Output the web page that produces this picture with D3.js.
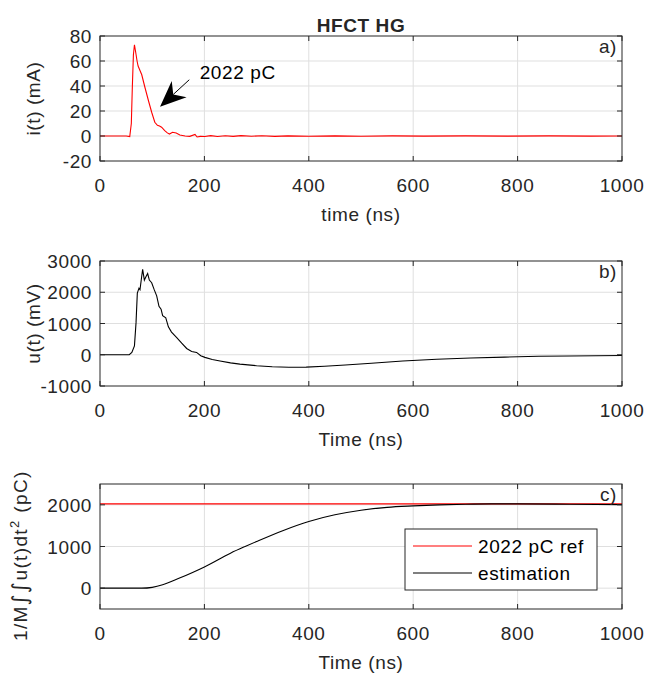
<!DOCTYPE html>
<html>
<head>
<meta charset="utf-8">
<script src="https://cdn.jsdelivr.net/npm/d3@7"></script>
<style>
  html, body { margin: 0; padding: 0; background: #fff; }
  svg { display: block; }
  text { font-family: "Liberation Sans", Arial, Helvetica, sans-serif; fill: #262626; letter-spacing: 0.6px; }
</style>
</head>
<body>
<svg id="chart" width="646" height="675"></svg>
<script>
// ---------- data ----------
const chartTitle = "HFCT HG";
const xTicks = [0, 200, 400, 600, 800, 1000];

// panel a: current i(t) in mA
const timeA = [0, 50, 57, 60, 62, 64, 66, 68, 71, 73, 77, 80, 86, 93, 99, 105, 110, 114, 118, 124, 129, 133, 139, 146, 153, 163, 172, 182, 186, 192, 201, 212, 225, 240, 255, 270, 290, 310, 335, 360, 400, 450, 500, 560, 620, 700, 780, 860, 940, 1000];
const currentA = [0, 0, -0.5, 10, 40, 65, 73, 68, 60, 56, 52, 49, 39, 28, 19, 11, 8.5, 8, 7, 4.3, 2.5, 1.6, 3, 2.4, 0.8, 0, -0.3, 1.3, -0.8, -0.3, -0.4, 0.3, -0.4, 0.2, -0.3, 0.3, -0.2, 0.2, -0.3, 0.1, -0.2, 0.1, -0.2, 0.1, -0.1, 0.1, -0.1, 0.1, -0.1, 0];
const yTicksA = [-20, 0, 20, 40, 60, 80];
const annotationText = "2022 pC";

// panel b: voltage u(t) in mV
const timeB = [0, 56, 61, 66, 69, 71.5, 74.7, 76.6, 79.8, 81.7, 85, 88, 91.3, 94.5, 99, 104, 108.6, 113, 117, 120, 126, 131, 137, 147, 156.5, 166, 175.6, 185, 193, 201, 215, 230, 250, 268, 300, 330, 362, 395, 430, 470, 520, 580, 645, 710, 775, 840, 900, 950, 1000];
const voltageB = [0, 0, 74, 285, 1020, 1970, 2130, 2080, 2495, 2730, 2390, 2495, 2600, 2390, 2305, 2075, 1885, 1550, 1460, 1250, 1180, 895, 725, 550, 370, 200, 105, 74, -32, -84, -150, -200, -260, -300, -350, -383, -398, -395, -370, -330, -270, -200, -145, -105, -75, -50, -38, -30, -25];
const yTicksB = [-1000, 0, 1000, 2000, 3000];

// panel c: charge estimation in pC
const timeC = [0, 80, 100, 120, 150, 200, 250, 278, 300, 350, 400, 450, 500, 550, 600, 650, 700, 750, 800, 900, 1000];
const estimationC = [0, 0, 20, 80, 230, 510, 840, 1000, 1120, 1380, 1600, 1760, 1870, 1940, 1975, 2000, 2015, 2022, 2022, 2015, 2005];
const refCharge = 2022;
const yTicksC = [0, 1000, 2000];
const legendLabels = ["2022 pC ref", "estimation"];

// ---------- layout ----------
const svg = d3.select("#chart");
const left = 100, right = 622;
const x = d3.scaleLinear().domain([0, 1000]).range([left, right]);
const fs = 19;
const axisColor = "#262626";
const gridColor = "#dfdfdf";

const panels = [
  { top: 36,  bottom: 161, domain: [-20, 80],     ticks: yTicksA, ylabel: "i(t) (mA)",  xlabel: "time (ns)", tag: "a)" },
  { top: 261, bottom: 386, domain: [-1000, 3000], ticks: yTicksB, ylabel: "u(t) (mV)",  xlabel: "Time (ns)", tag: "b)" },
  { top: 484, bottom: 609, domain: [-500, 2500],  ticks: yTicksC, ylabel: null,         xlabel: "Time (ns)", tag: "c)" }
];

panels.forEach((p, i) => {
  p.y = d3.scaleLinear().domain(p.domain).range([p.bottom, p.top]);
  const g = svg.append("g");
  p.g = g;
  const clipId = "clip" + i;
  svg.append("clipPath").attr("id", clipId).append("rect")
    .attr("x", left).attr("y", p.top).attr("width", right - left).attr("height", p.bottom - p.top);
  g.append("g").selectAll("line").data(xTicks.slice(1, -1)).join("line")
    .attr("x1", d => x(d)).attr("x2", d => x(d)).attr("y1", p.top).attr("y2", p.bottom)
    .attr("stroke", gridColor).attr("stroke-width", 1);
  g.append("g").selectAll("line").data(p.ticks.filter(t => t > p.domain[0] && t < p.domain[1])).join("line")
    .attr("x1", left).attr("x2", right).attr("y1", d => p.y(d)).attr("y2", d => p.y(d))
    .attr("stroke", gridColor).attr("stroke-width", 1);
});

// data lines
const lineA = d3.line().x((d, i) => x(timeA[i])).y(d => panels[0].y(d));
panels[0].g.append("path").datum(currentA).attr("d", lineA)
  .attr("fill", "none").attr("stroke", "#ff0000").attr("stroke-width", 1.1)
  .attr("clip-path", "url(#clip0)");

const lineB = d3.line().x((d, i) => x(timeB[i])).y(d => panels[1].y(d));
panels[1].g.append("path").datum(voltageB).attr("d", lineB)
  .attr("fill", "none").attr("stroke", "#000").attr("stroke-width", 1.1)
  .attr("clip-path", "url(#clip1)");

const pc = panels[2];
pc.g.append("line").attr("x1", x(0)).attr("x2", x(1000))
  .attr("y1", pc.y(refCharge)).attr("y2", pc.y(refCharge))
  .attr("stroke", "#ff0000").attr("stroke-width", 1.1);
const lineC = d3.line().x((d, i) => x(timeC[i])).y(d => pc.y(d)).curve(d3.curveMonotoneX);
pc.g.append("path").datum(estimationC).attr("d", lineC)
  .attr("fill", "none").attr("stroke", "#000").attr("stroke-width", 1.1)
  .attr("clip-path", "url(#clip2)");

// axes, box, ticks, labels
panels.forEach((p, i) => {
  const g = p.g;
  const tl = 5;
  g.append("g").selectAll("line").data(xTicks).join("line")
    .attr("x1", d => x(d)).attr("x2", d => x(d)).attr("y1", p.bottom).attr("y2", p.bottom - tl)
    .attr("stroke", axisColor);
  g.append("g").selectAll("line").data(xTicks).join("line")
    .attr("x1", d => x(d)).attr("x2", d => x(d)).attr("y1", p.top).attr("y2", p.top + tl)
    .attr("stroke", axisColor);
  g.append("g").selectAll("line").data(p.ticks).join("line")
    .attr("x1", left).attr("x2", left + tl).attr("y1", d => p.y(d)).attr("y2", d => p.y(d))
    .attr("stroke", axisColor);
  g.append("g").selectAll("line").data(p.ticks).join("line")
    .attr("x1", right).attr("x2", right - tl).attr("y1", d => p.y(d)).attr("y2", d => p.y(d))
    .attr("stroke", axisColor);
  g.append("rect").attr("x", left).attr("y", p.top).attr("width", right - left).attr("height", p.bottom - p.top)
    .attr("fill", "none").attr("stroke", axisColor).attr("stroke-width", 1);
  g.append("g").selectAll("text").data(xTicks).join("text")
    .attr("x", d => x(d)).attr("y", p.bottom + 31)
    .attr("text-anchor", "middle").attr("font-size", fs).text(d => d);
  g.append("g").selectAll("text").data(p.ticks).join("text")
    .attr("x", left - 8).attr("y", d => p.y(d) + 7)
    .attr("text-anchor", "end").attr("font-size", fs).text(d => d);
  g.append("text").attr("x", (left + right) / 2).attr("y", p.bottom + 60)
    .attr("text-anchor", "middle").attr("font-size", fs).text(p.xlabel);
  if (p.ylabel) {
    g.append("text").attr("transform", `translate(40,${(p.top + p.bottom) / 2}) rotate(-90)`)
      .attr("text-anchor", "middle").attr("font-size", fs).text(p.ylabel);
  }
  g.append("text").attr("x", right - 5).attr("y", p.top + 17)
    .attr("text-anchor", "end").attr("font-size", fs).text(p.tag);
});

// y label panel c with integral symbols and superscript
const yl = svg.append("text")
  .attr("transform", `translate(27,556) rotate(-90)`)
  .attr("text-anchor", "middle").attr("font-size", fs)
  .attr("textLength", 170).attr("lengthAdjust", "spacing");
yl.append("tspan").text("1/M");
yl.append("tspan").style("font-family", "DejaVu Sans").attr("font-size", 21).text("\u222B\u222B");
yl.append("tspan").text("u(t)dt");
yl.append("tspan").attr("font-size", 13).attr("dy", -8).text("2");
yl.append("tspan").attr("dy", 8).text(" (pC)");

// title
svg.append("text").attr("x", (left + right) / 2).attr("y", 32)
  .attr("text-anchor", "middle").attr("font-size", fs).attr("font-weight", "bold").text(chartTitle);

// annotation arrow in panel a
const pa = panels[0];
const tip = [x(115), pa.y(23.5)];
const tail = [x(171), pa.y(45)];
const dx = tail[0] - tip[0], dy = tail[1] - tip[1];
const len = Math.hypot(dx, dy);
const ux = dx / len, uy = dy / len;
const hl = 26, hw = 11, notch = 18;
const base = [tip[0] + ux * hl, tip[1] + uy * hl];
const back = [tip[0] + ux * notch, tip[1] + uy * notch];
const w1 = [base[0] - uy * hw, base[1] + ux * hw];
const w2 = [base[0] + uy * hw, base[1] - ux * hw];
svg.append("line").attr("x1", tail[0]).attr("y1", tail[1]).attr("x2", back[0]).attr("y2", back[1])
  .attr("stroke", "#000").attr("stroke-width", 1);
svg.append("path").attr("d", `M${tip}L${w1}L${back}L${w2}Z`).attr("fill", "#000");
svg.append("text").attr("x", x(191)).attr("y", pa.y(46))
  .attr("font-size", fs).style("fill", "#000").text(annotationText);

// legend panel c
const lg = svg.append("g");
lg.append("rect").attr("x", 405).attr("y", 529).attr("width", 192).attr("height", 61)
  .attr("fill", "#fff").attr("stroke", axisColor).attr("stroke-width", 1);
const legendColors = ["#ff0000", "#000"];
legendLabels.forEach((lab, i) => {
  const yy = 546 + i * 27;
  lg.append("line").attr("x1", 413).attr("x2", 472).attr("y1", yy).attr("y2", yy)
    .attr("stroke", legendColors[i]).attr("stroke-width", 1.1);
  lg.append("text").attr("x", 478).attr("y", yy + 7).attr("font-size", fs)
    .style("fill", "#000").text(lab);
});
</script>
</body>
</html>
